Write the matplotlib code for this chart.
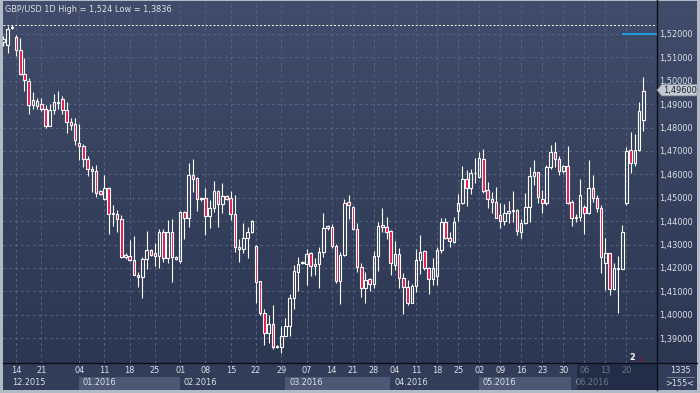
import numpy as np
import matplotlib
matplotlib.use("Agg")
import matplotlib.pyplot as plt
from matplotlib.patches import Rectangle, Polygon
from matplotlib.colors import LinearSegmentedColormap

# ── Data (GBP/USD daily candles) ─────────────────────────────────────────────
opens = [
    1.5165, 1.5154, 1.5226, 1.5189, 1.5130, 1.5030, 1.5000, 1.4895, 1.4892, 1.4900,
    1.4878, 1.4807, 1.4874, 1.4907, 1.4921, 1.4874, 1.4824, 1.4815, 1.4733, 1.4720,
    1.4665, 1.4624, 1.4616, 1.4528, 1.4496, 1.4542, 1.4432, 1.4430, 1.4408, 1.4245,
    1.4253, 1.4235, 1.4172, 1.4163, 1.4237, 1.4276, 1.4265, 1.4250, 1.4354, 1.4241,
    1.4355, 1.4246, 1.4231, 1.4441, 1.4412, 1.4597, 1.4583, 1.4493, 1.4498, 1.4424,
    1.4455, 1.4529, 1.4472, 1.4508, 1.4498, 1.4430, 1.4283, 1.4283, 1.4327, 1.4352,
    1.4294, 1.4145, 1.4009, 1.3924, 1.3961, 1.3867, 1.3861, 1.3911, 1.3952, 1.4071,
    1.4184, 1.4220, 1.4216, 1.4263, 1.4207, 1.4216, 1.4270, 1.4369, 1.4374, 1.4294,
    1.4146, 1.4256, 1.4482, 1.4459, 1.4365, 1.4206, 1.4113, 1.4152, 1.4132, 1.4251,
    1.4382, 1.4374, 1.4360, 1.4211, 1.4260, 1.4156, 1.4117, 1.4052, 1.4123, 1.4234,
    1.4273, 1.4199, 1.4152, 1.4166, 1.4277, 1.4398, 1.4330, 1.4313, 1.4445, 1.4479,
    1.4579, 1.4540, 1.4605, 1.4587, 1.4664, 1.4533, 1.4493, 1.4481, 1.4425, 1.4402,
    1.4437, 1.4444, 1.4448, 1.4353, 1.4394, 1.4459, 1.4595, 1.4609, 1.4493, 1.4479,
    1.4630, 1.4694, 1.4664, 1.4615, 1.4636, 1.4481, 1.4412, 1.4417, 1.4462, 1.4434,
    1.4543, 1.4501, 1.4458, 1.4223, 1.4266, 1.4109, 1.4196, 1.4196, 1.4476, 1.4704,
    1.4647, 1.4704, 1.4832,
]
highs = [
    1.5190, 1.5234, 1.5240, 1.5197, 1.5183, 1.5097, 1.5012, 1.4950, 1.4925, 1.4927,
    1.4898, 1.4900, 1.4945, 1.4955, 1.4935, 1.4909, 1.4841, 1.4841, 1.4817, 1.4730,
    1.4680, 1.4635, 1.4642, 1.4535, 1.4599, 1.4545, 1.4471, 1.4446, 1.4425, 1.4262,
    1.4318, 1.4337, 1.4185, 1.4247, 1.4357, 1.4280, 1.4308, 1.4365, 1.4365, 1.4405,
    1.4408, 1.4251, 1.4445, 1.4445, 1.4647, 1.4664, 1.4587, 1.4502, 1.4541, 1.4491,
    1.4573, 1.4533, 1.4562, 1.4512, 1.4531, 1.4512, 1.4322, 1.4394, 1.4374, 1.4405,
    1.4298, 1.4145, 1.4023, 1.3999, 1.4042, 1.3870, 1.3952, 1.3985, 1.4089, 1.4213,
    1.4246, 1.4230, 1.4281, 1.4270, 1.4241, 1.4291, 1.4434, 1.4384, 1.4388, 1.4303,
    1.4270, 1.4493, 1.4512, 1.4465, 1.4394, 1.4223, 1.4184, 1.4156, 1.4274, 1.4398,
    1.4455, 1.4419, 1.4362, 1.4317, 1.4284, 1.4177, 1.4149, 1.4132, 1.4280, 1.4341,
    1.4277, 1.4206, 1.4241, 1.4291, 1.4412, 1.4412, 1.4355, 1.4419, 1.4516, 1.4636,
    1.4619, 1.4622, 1.4669, 1.4694, 1.4707, 1.4569, 1.4526, 1.4545, 1.4476, 1.4473,
    1.4488, 1.4529, 1.4451, 1.4408, 1.4519, 1.4630, 1.4662, 1.4612, 1.4533, 1.4640,
    1.4726, 1.4740, 1.4679, 1.4640, 1.4721, 1.4490, 1.4431, 1.4580, 1.4469, 1.4662,
    1.4597, 1.4512, 1.4469, 1.4330, 1.4266, 1.4220, 1.4251, 1.4384, 1.4716, 1.4782,
    1.4773, 1.4908, 1.5018,
]
lows = [
    1.5150, 1.5120, 1.5222, 1.5106, 1.5024, 1.4955, 1.4860, 1.4881, 1.4878, 1.4870,
    1.4798, 1.4805, 1.4860, 1.4881, 1.4860, 1.4778, 1.4788, 1.4727, 1.4660, 1.4632,
    1.4593, 1.4525, 1.4503, 1.4510, 1.4489, 1.4347, 1.4380, 1.4354, 1.4242, 1.4240,
    1.4232, 1.4168, 1.4119, 1.4072, 1.4195, 1.4253, 1.4210, 1.4200, 1.4226, 1.4223,
    1.4142, 1.4234, 1.4223, 1.4322, 1.4377, 1.4526, 1.4445, 1.4488, 1.4341, 1.4372,
    1.4441, 1.4377, 1.4437, 1.4491, 1.4405, 1.4270, 1.4227, 1.4266, 1.4241, 1.4351,
    1.4052, 1.3999, 1.3871, 1.3881, 1.3852, 1.3858, 1.3836, 1.3910, 1.3910, 1.4025,
    1.4102, 1.4216, 1.4128, 1.4166, 1.4170, 1.4113, 1.4248, 1.4362, 1.4284, 1.4135,
    1.4046, 1.4251, 1.4408, 1.4362, 1.4184, 1.4077, 1.4052, 1.4103, 1.4113, 1.4189,
    1.4355, 1.4323, 1.4170, 1.4192, 1.4113, 1.4002, 1.4042, 1.4049, 1.4099, 1.4174,
    1.4192, 1.4089, 1.4127, 1.4127, 1.4266, 1.4323, 1.4291, 1.4305, 1.4401, 1.4473,
    1.4465, 1.4516, 1.4562, 1.4583, 1.4522, 1.4455, 1.4437, 1.4412, 1.4370, 1.4384,
    1.4391, 1.4398, 1.4341, 1.4327, 1.4388, 1.4398, 1.4555, 1.4479, 1.4437, 1.4469,
    1.4622, 1.4633, 1.4597, 1.4605, 1.4473, 1.4381, 1.4398, 1.4402, 1.4345, 1.4431,
    1.4483, 1.4441, 1.4177, 1.4106, 1.4085, 1.4106, 1.4006, 1.4194, 1.4469, 1.4608,
    1.4637, 1.4702, 1.4787,
]
closes = [
    1.5180, 1.5220, 1.5229, 1.5130, 1.5030, 1.5002, 1.4895, 1.4917, 1.4915, 1.4878,
    1.4807, 1.4874, 1.4909, 1.4910, 1.4874, 1.4824, 1.4812, 1.4746, 1.4720, 1.4665,
    1.4624, 1.4616, 1.4522, 1.4515, 1.4542, 1.4432, 1.4436, 1.4408, 1.4245, 1.4255,
    1.4235, 1.4171, 1.4163, 1.4237, 1.4276, 1.4255, 1.4250, 1.4354, 1.4243, 1.4355,
    1.4246, 1.4237, 1.4441, 1.4412, 1.4597, 1.4579, 1.4493, 1.4498, 1.4424, 1.4455,
    1.4529, 1.4472, 1.4508, 1.4496, 1.4430, 1.4288, 1.4288, 1.4327, 1.4355, 1.4402,
    1.4142, 1.4009, 1.3924, 1.3961, 1.3861, 1.3864, 1.3911, 1.3952, 1.4071, 1.4187,
    1.4216, 1.4226, 1.4258, 1.4209, 1.4216, 1.4270, 1.4370, 1.4380, 1.4294, 1.4146,
    1.4256, 1.4476, 1.4471, 1.4365, 1.4203, 1.4113, 1.4149, 1.4132, 1.4251, 1.4380,
    1.4374, 1.4355, 1.4223, 1.4260, 1.4156, 1.4117, 1.4052, 1.4123, 1.4234, 1.4270,
    1.4199, 1.4152, 1.4199, 1.4277, 1.4398, 1.4327, 1.4317, 1.4398, 1.4479, 1.4579,
    1.4540, 1.4605, 1.4607, 1.4669, 1.4531, 1.4493, 1.4481, 1.4415, 1.4402, 1.4437,
    1.4442, 1.4448, 1.4360, 1.4394, 1.4459, 1.4595, 1.4609, 1.4505, 1.4479, 1.4630,
    1.4697, 1.4664, 1.4616, 1.4636, 1.4476, 1.4412, 1.4419, 1.4512, 1.4437, 1.4543,
    1.4498, 1.4455, 1.4248, 1.4266, 1.4109, 1.4199, 1.4199, 1.4353, 1.4700, 1.4647,
    1.4704, 1.4871, 1.4956,
]

day_ticks = [3, 9, 18, 24, 30, 36, 42, 48, 54, 60, 66, 72, 78, 83, 88, 93,
             98, 103, 108, 113, 118, 123, 128, 133, 138, 143, 148]
day_labels = ["14", "21", "04", "11", "18", "25", "01", "08", "15", "22", "29",
              "07", "14", "21", "28", "04", "11", "18", "25", "02", "09", "16",
              "23", "30", "06", "13", "20"]
month_starts = [-1, 18, 42, 67, 92, 113, 135]
month_labels = ["12.2015", "01.2016", "02.2016", "03.2016", "04.2016",
                "05.2016", "06.2016"]
price_ticks = [1.39, 1.40, 1.41, 1.42, 1.43, 1.44, 1.45, 1.46, 1.47, 1.48,
               1.49, 1.50, 1.51, 1.52]
high_level = 1.524
low_level = 1.3836
last_price = 1.496
target_level = 1.52
target_start = 147

# ── Layout helpers ───────────────────────────────────────────────────────────
W, H = 700, 393
def px_rect(x0, y0, x1, y1):
    return [x0 / W, 1 - y1 / H, (x1 - x0) / W, (y1 - y0) / H]

TXT = "#dce1ea"
RED = "#e5174b"
FS = 5.9
XMIN, XMAX = -0.1, 155.25
YMIN, YMAX = 1.3794, 1.5341

fig = plt.figure(figsize=(7, 3.93), dpi=100, facecolor="#b3bac7")

# background panel (pixel coordinates)
bg = fig.add_axes([0, 0, 1, 1], zorder=0)
cmap = LinearSegmentedColormap.from_list("bg", ["#404c69", "#2c3752"])
bg.imshow(np.linspace(0, 1, 256).reshape(-1, 1), extent=(3, 697, 363, 1),
          cmap=cmap, aspect="auto")
bg.add_patch(Rectangle((3, 363), 694, 27, color="#323e59", lw=0))
bg.plot([3, 697], [363, 363], color="#0a0e18", lw=1)
bg.plot([657, 657], [0, 390], color="#0a0e18", lw=1)
bg.text(680, 370.5, "1335", color=TXT, fontsize=FS, ha="center", va="center")
bg.plot([667, 694], [376.5, 376.5], color="#808a9c", lw=0.6)
bg.text(680, 383, ">155<", color=TXT, fontsize=FS, ha="center", va="center")
bg.set_xlim(0, W)
bg.set_ylim(H, 0)
bg.axis("off")

# ── Main chart ───────────────────────────────────────────────────────────────
ax = fig.add_axes(px_rect(3, 1, 657, 363), zorder=1)
ax.patch.set_alpha(0)
ax.set_xlim(XMIN, XMAX)
ax.set_ylim(YMIN, YMAX)
for s in ax.spines.values():
    s.set_visible(False)

ax.set_xticks(day_ticks, day_labels)
ax.set_yticks(price_ticks, [f"{v:.5f}".replace(".", ",") for v in price_ticks])
ax.yaxis.tick_right()
ax.tick_params(length=0, labelsize=FS, colors=TXT)
ax.tick_params(axis="x", pad=2.4)
ax.tick_params(axis="y", pad=1.6)
ax.grid(True, color="#56627f", lw=0.7, ls=(0, (3, 3)))
ax.set_axisbelow(True)

o = np.array(opens); h = np.array(highs); l = np.array(lows); c = np.array(closes)
idx = np.arange(len(o))
top = np.maximum(o, c)
bot = np.minimum(o, c)
bull = c >= o

ax.vlines(idx, top, h, color="white", lw=0.8, zorder=3)
ax.vlines(idx, l, bot, color="white", lw=0.8, zorder=3)
ax.bar(idx[bull], (top - bot)[bull], bottom=bot[bull], width=0.6,
       facecolor="none", edgecolor="white", lw=0.8, zorder=4)
ax.bar(idx[~bull], (top - bot)[~bull], bottom=bot[~bull], width=0.6,
       facecolor=RED, edgecolor="white", lw=0.8, zorder=4)

ax.axhline(high_level, color="white", lw=0.7, ls=(0, (2, 2)), zorder=2)
ax.hlines(target_level, target_start, XMAX, color="#1b9ee3", lw=1.4, zorder=3)

ax.text(0.003, 0.976,
        f"GBP/USD 1D High = {high_level:.3f} Low = {low_level:.4f}".replace(".", ","),
        transform=ax.transAxes, color=TXT, fontsize=FS, ha="left", va="center")

# month row under the day labels
xt = ax.get_xaxis_transform()
ends = month_starts[1:] + [XMAX]
for i, (m0, m1, lab) in enumerate(zip(month_starts, ends, month_labels)):
    if i % 2 == 1:
        ax.add_patch(Rectangle((m0 - 0.1, -0.0746), m1 - m0, 0.0359,
                               transform=xt, color="#4c5874", lw=0,
                               clip_on=False, zorder=1))
    x_lab = 2.0 if i == 0 else m0 + 0.85
    ax.text(x_lab, -0.0552, lab, transform=xt, color=TXT, fontsize=FS,
            ha="left", va="center", clip_on=False, zorder=2)

# last price tag on the price axis
yt = ax.get_yaxis_transform()
dy = 0.00245
ax.add_patch(Polygon([(1.0, last_price), (1.0076, last_price + dy),
                      (1.0612, last_price + dy), (1.0612, last_price - dy),
                      (1.0076, last_price - dy)], closed=True,
                     transform=yt, facecolor="#c5c9d1", edgecolor="#8a909c",
                     lw=0.5, clip_on=False, zorder=6))
ax.text(1.0085, last_price, f"{last_price:.5f}".replace(".", ","), transform=yt,
        color="#1c2433", fontsize=FS, ha="left", va="center", clip_on=False,
        zorder=7)

# ── Overlay (dimmed future zone, marker) ─────────────────────────────────────
ov = fig.add_axes([0, 0, 1, 1], zorder=5)
ov.patch.set_alpha(0)
ov.add_patch(Rectangle((576.5, 363.5), 80, 26.5, color="#18203a", alpha=0.55, lw=0))
ov.text(632, 357, "2", color="white", fontsize=FS, fontweight="bold",
        ha="center", va="center")
ov.add_patch(Polygon([(637.5, 361.5), (644, 361.5), (640.7, 356.5)],
                     closed=True, color="#5c2838", lw=0))
ov.set_xlim(0, W)
ov.set_ylim(H, 0)
ov.axis("off")

fig.savefig("out.png", dpi=100, facecolor=fig.get_facecolor())
